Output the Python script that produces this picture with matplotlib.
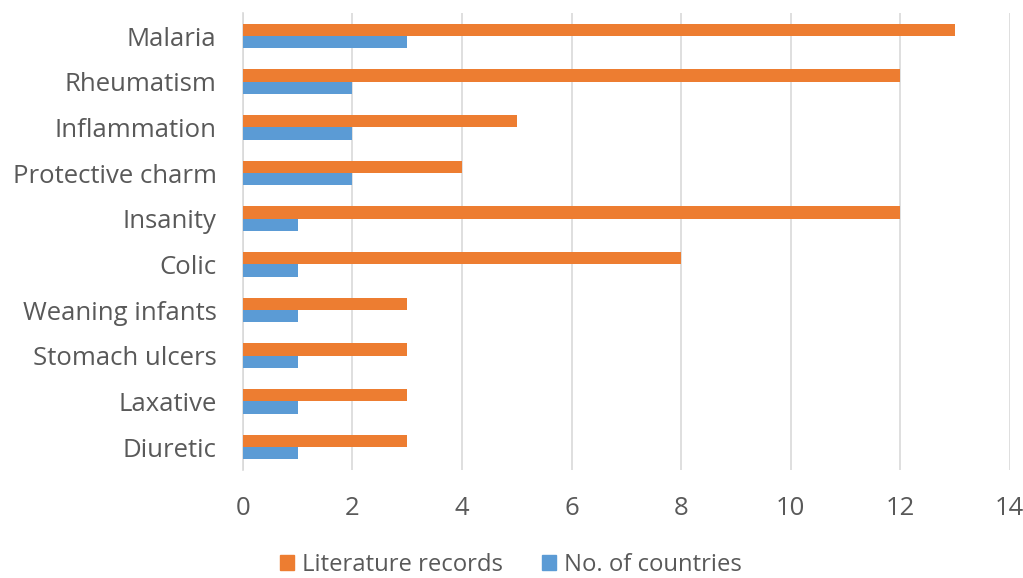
import matplotlib
matplotlib.use("Agg")
import matplotlib.pyplot as plt
import numpy as np
from matplotlib.patches import Patch

categories = ["Malaria", "Rheumatism", "Inflammation", "Protective charm", "Insanity",
              "Colic", "Weaning infants", "Stomach ulcers", "Laxative", "Diuretic"]
literature_records = [13, 12, 5, 4, 12, 8, 3, 3, 3, 3]
no_of_countries = [3, 2, 2, 2, 1, 1, 1, 1, 1, 1]
xticks = [0, 2, 4, 6, 8, 10, 12, 14]

ORANGE = "#ED7D31"
BLUE = "#5B9BD5"
TXT = "#595959"

plt.rcParams['font.family'] = ['Open Sans', 'DejaVu Sans']

fig = plt.figure(figsize=(10.23, 5.78), dpi=100)
ax = fig.add_axes([0.2375, 0.187, 0.7495, 0.79])

y = np.arange(len(categories))
h = 0.27
ax.barh(y - h / 2, literature_records, height=h, color=ORANGE, zorder=3)
ax.barh(y + h / 2, no_of_countries, height=h, color=BLUE, zorder=3)

ax.set_ylim(len(categories) - 0.5, -0.5)
ax.set_xlim(0, 14)
ax.set_xticks(xticks)
ax.set_xticklabels([str(t) for t in xticks])
ax.set_yticks(y)
ax.set_yticklabels(categories)
ax.tick_params(axis='both', length=0, labelsize=18.5, colors=TXT)
ax.tick_params(axis='x', pad=19)
ax.tick_params(axis='y', pad=19)
ax.grid(axis='x', color="#D9D9D9", linewidth=1.2, zorder=0)
for s in ['top', 'right', 'bottom']:
    ax.spines[s].set_visible(False)
ax.spines['left'].set_color("#D9D9D9")
ax.spines['left'].set_linewidth(1.2)

handles = [Patch(color=ORANGE, label="Literature records"),
           Patch(color=BLUE, label="No. of countries")]
fig.legend(handles=handles, loc='center', bbox_to_anchor=(0.4995, 0.022), ncol=2,
           frameon=False, fontsize=17.2, labelcolor=TXT, handlelength=0.6,
           handleheight=0.6, handletextpad=0.35, columnspacing=1.6)

fig.savefig("out.png", dpi=100)
